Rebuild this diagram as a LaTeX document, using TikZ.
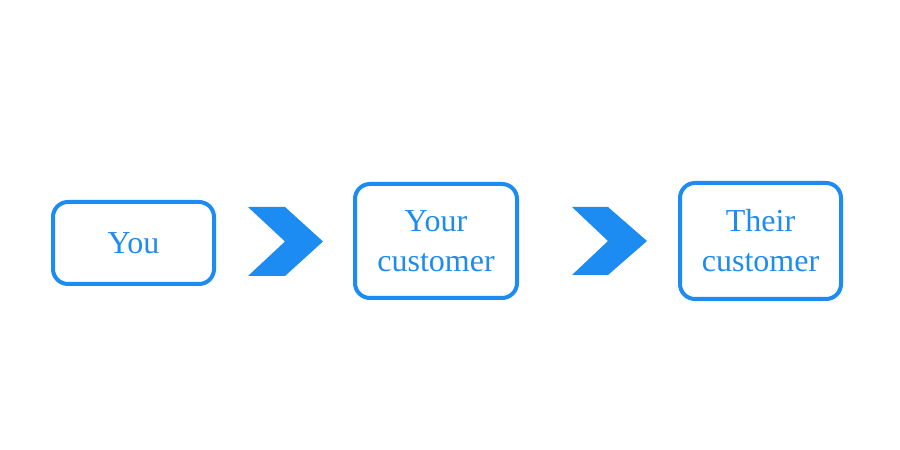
\documentclass[tikz,border=0pt]{standalone}
\usepackage{fontspec}
\setmainfont{Liberation Serif}
\definecolor{flowblue}{RGB}{28,140,242}
\begin{document}
\begin{tikzpicture}[x=1pt,y=1pt,
  stagebox/.style={draw=flowblue, line width=4pt, rounded corners=15pt, rectangle,
    inner sep=0pt, outer sep=0pt, align=center, text=flowblue,
    font=\fontsize{32}{40}\selectfont},
  chevron/.style={fill=flowblue}]
\useasboundingbox[fill=white] (0,0) rectangle (900,450);
\node[stagebox, minimum width=161pt, minimum height=82pt] (you) at (133.5,207) {You};
\node[stagebox, minimum width=162pt, minimum height=114pt] (yours) at (436,209) {Your\\customer};
\node[stagebox, minimum width=161pt, minimum height=116pt] (theirs) at (760.5,209) {Their\\customer};
\coordinate (c1) at (248,208.5);
\coordinate (c2) at (572,209);
\fill[chevron] (c1) ++(0,34.5) -- ++(37,0) -- ++(38,-34.5) -- ++(-38,-34.5) -- ++(-37,0) -- ++(37,34.5) -- cycle;
\fill[chevron] (c2) ++(0,34) -- ++(36,0) -- ++(39,-34) -- ++(-39,-34) -- ++(-36,0) -- ++(36,34) -- cycle;
\end{tikzpicture}
\end{document}
